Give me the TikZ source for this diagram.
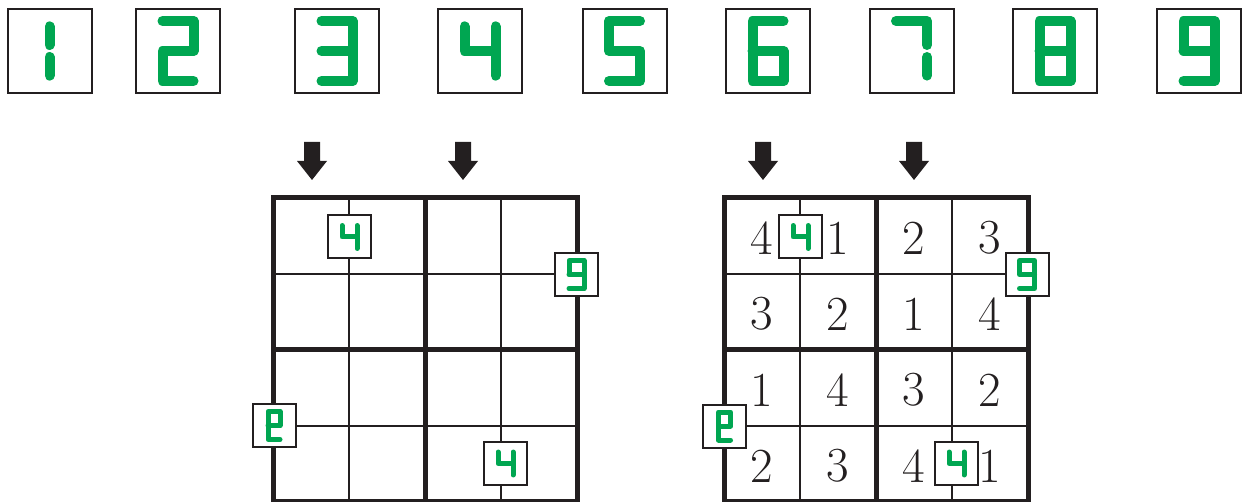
\documentclass[tikz,border=0pt]{standalone}
\definecolor{ink}{HTML}{231F20}
\definecolor{segg}{HTML}{00A651}
\newcommand{\dgA}{(0,-0.82)--(0,-0.2) (0,0.2)--(0,0.82)}
\newcommand{\dgB}{(-1,-1)--(1,-1)--(1,0)--(-1,0)--(-1,1)--(1,1)}
\newcommand{\dgC}{(-1,-1)--(1,-1)--(1,1)--(-1,1) (-1,0)--(1,0)}
\newcommand{\dgD}{(-1,-0.82)--(-1,0)--(1,0) (1,-0.82)--(1,0.82)}
\newcommand{\dgE}{(1,-1)--(-1,-1)--(-1,0)--(1,0)--(1,1)--(-1,1)}
\newcommand{\dgF}{(1,-1)--(-1,-1)--(-1,1)--(1,1)--(1,0)--(-1,0)}
\newcommand{\dgG}{(-1,-1)--(1,-1)--(1,-0.2) (1,0.2)--(1,0.82)}
\newcommand{\dgH}{(-1,-1)--(1,-1)--(1,1)--(-1,1)--cycle (-1,0)--(1,0)}
\newcommand{\dgI}{(-1,0)--(-1,-1)--(1,-1)--(1,1)--(-1,1) (-1,0)--(1,0)}
\newcommand{\dgJ}{(-0.8,0)--(0.8,0)--(0.8,-1)--(-0.8,-1)--(-0.8,1)--(0.8,1)}
\newcommand{\bigdg}[3]{\begin{scope}[shift={(#1,#2)},xscale=15.5,yscale=30]\draw[bigseg] #3;\end{scope}}
\newcommand{\smdg}[3]{\begin{scope}[shift={(#1,#2)},xscale=7.5,yscale=14]\draw[smseg] #3;\end{scope}}
\begin{document}
\begin{tikzpicture}[x=1pt,y=-1pt,
  bigseg/.style={draw=segg,line width=10pt,line cap=round,line join=round},
  smseg/.style={draw=segg,line width=5pt,line cap=round,line join=round},
  topbox/.style={draw=ink,line width=2pt,minimum width=84pt,minimum height=84pt,inner sep=0pt},
  cluebox/.style={draw=ink,fill=white,line width=2pt,minimum size=43pt,inner sep=0pt},
  thin/.style={draw=ink,line width=2pt},
  thick/.style={draw=ink,line width=5pt},
  num/.style={font=\fontsize{49}{49}\selectfont,text=ink,inner sep=0pt},
  downarrow/.style={fill=ink}]
\useasboundingbox (0,0) rectangle (1242,502);
% top row of boxes
\foreach \n/\x/\d in {b1/49.5/\dgA,b2/178/\dgB,b3/337/\dgC,b4/480/\dgD,b5/624.5/\dgE,b6/768/\dgF,b7/911.5/\dgG,b8/1055/\dgH,b9/1199/\dgI}{
  \node[topbox] (\n) at (\x,51) {};
  \bigdg{\x}{51}{\d}
}
% arrows
\foreach \x in {312,463,763,914}{
  \fill[downarrow] (\x-8,142) -- (\x+8,142) -- (\x+8,161) -- (\x+15,161) -- (\x,180) -- (\x-15,161) -- (\x-8,161) -- cycle;
}
% grids
\foreach \gx in {273,724}{
  \draw[thin] (\gx+76,198) -- (\gx+76,502) (\gx+228,198) -- (\gx+228,502)
              (\gx,274) -- (\gx+304,274) (\gx,426) -- (\gx+304,426);
  \draw[thick] (\gx+152,198) -- (\gx+152,501) (\gx,350) -- (\gx+304,350);
  \draw[thick] (\gx,198) rectangle (\gx+304,501);
}
% numbers in right grid
\foreach \r/\y/\a/\b/\c/\d in {1/236/4/1/2/3, 2/312/3/2/1/4, 3/388/1/4/3/2, 4/464/2/3/4/1}{
  \node[num] (n\r a) at (762,\y+2) {\a};
  \node[num] (n\r b) at (838,\y+2) {\b};
  \node[num] (n\r c) at (914,\y+2) {\c};
  \node[num] (n\r d) at (990,\y+2) {\d};
}
% clue boxes
\foreach \n/\x/\y/\d in {la/349.5/237/\dgD, lb/576.5/274.5/\dgI, lc/274/425.5/\dgJ, ld/505.5/463.5/\dgD,
                         ra/800.5/237/\dgD, rb/1027/274.5/\dgI, rc/724.5/426/\dgJ, rd/956.5/463.5/\dgD}{
  \node[cluebox] (\n) at (\x,\y) {};
  \smdg{\x}{\y}{\d}
}
\end{tikzpicture}
\end{document}
